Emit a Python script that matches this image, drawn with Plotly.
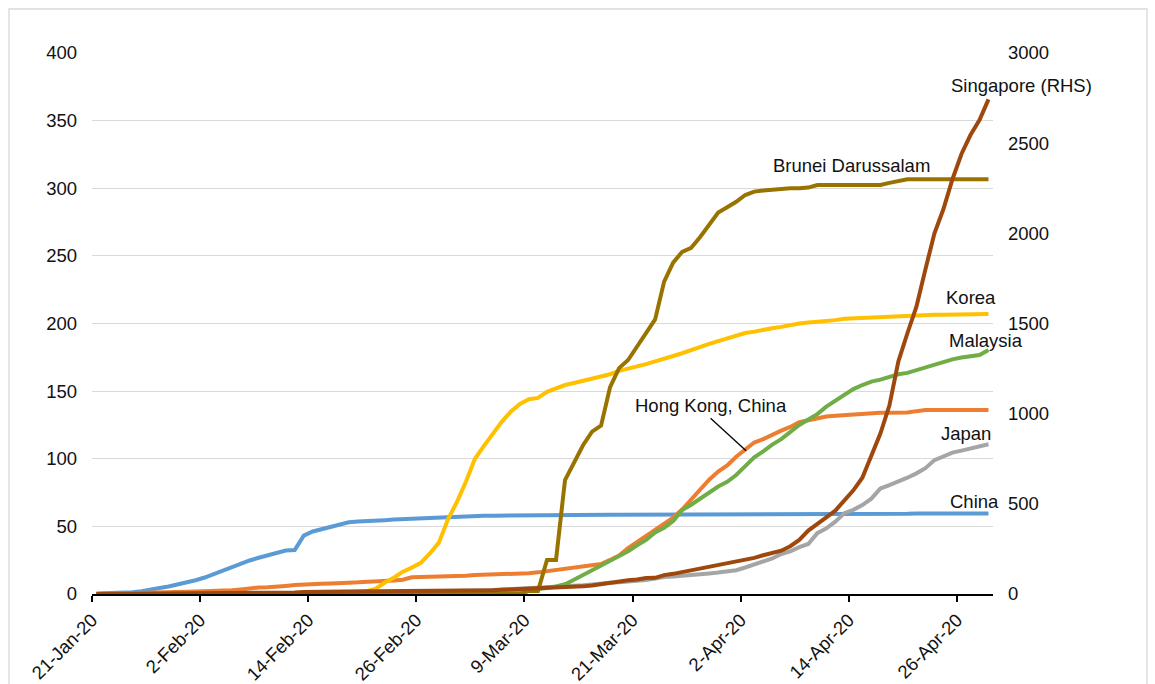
import pandas as pd
import plotly.graph_objects as go

# ---- data: cases per million, daily from 21-Jan-20 to 29-Apr-20 ----
start_date = "2020-01-21"
n_days = 100
dates = pd.date_range(start_date, periods=n_days, freq="D")

china = [0.3, 0.4, 0.5, 0.8, 1.3, 2.0, 3.5, 4.5, 5.6, 7.0,
         8.3, 10.2, 12.2, 14.8, 17.4, 19.8, 22.3, 24.8, 26.8, 28.7,
         30.6, 32.2, 32.5, 43.2, 46.2, 48.0, 49.6, 51.2, 53.0, 53.6,
         53.7, 54.2, 54.6, 55.0, 55.3, 55.9, 56.4, 56.7, 56.9, 57.3,
         57.5, 57.6, 57.7, 57.8, 57.9, 58.0, 58.1, 58.2, 58.3, 58.5,
         58.6, 58.6, 58.6, 58.6, 58.6, 58.6, 58.6, 58.6, 58.6, 58.6,
         58.6, 58.6, 58.6, 58.6, 58.6, 58.6, 58.6, 58.6, 58.6, 58.7,
         58.7, 58.7, 58.7, 58.8, 58.8, 58.8, 58.8, 58.8, 58.8, 58.8,
         58.8, 58.8, 58.8, 58.8, 58.8, 58.8, 58.8, 58.8, 58.8, 58.9,
         59.3, 59.5, 59.5, 59.5, 59.5, 59.5, 59.5, 59.5, 59.5, 59.5]

hong_kong = [0.0, 0.1, 0.3, 0.7, 0.8, 1.0, 1.1, 1.1, 1.3, 1.6,
             1.7, 1.9, 2.0, 2.1, 2.4, 2.8, 3.4, 4.2, 4.8, 5.0,
             5.2, 6.0, 6.6, 6.7, 7.0, 7.6, 7.8, 8.4, 8.4, 8.6,
             8.8, 9.2, 9.6, 10.0, 10.6, 12.4, 12.6, 12.7, 12.8, 13.0,
             13.3, 13.5, 14.0, 14.2, 14.2, 14.6, 14.8, 15.2, 15.4, 16.0,
             16.9, 17.5, 18.5, 19.2, 20.0, 20.7, 22.2, 25.2, 28.5, 34.0,
             38.5, 42.5, 47.5, 52.0, 56.5, 62.5, 70.0, 77.0, 84.5, 90.5,
             95.0, 101.5, 106.5, 112.0, 114.5, 118.0, 120.8, 123.5, 127.0, 128.5,
             130.0, 131.2, 131.8, 132.3, 133.0, 133.5, 133.8, 134.0, 134.0, 134.0,
             134.2, 135.2, 136.0, 136.0, 136.0, 136.0, 136.0, 136.0, 136.0, 136.0]

japan = [0.0, 0.0, 0.0, 0.0, 0.0, 0.0, 0.0, 0.1, 0.1, 0.1,
         0.1, 0.2, 0.2, 0.2, 0.2, 0.2, 0.2, 0.2, 0.2, 0.2,
         0.2, 0.2, 0.2, 0.2, 0.3, 0.4, 0.5, 0.5, 0.6, 0.7,
         0.8, 0.8, 0.9, 1.1, 1.2, 1.4, 1.5, 1.6, 1.7, 1.8,
         2.0, 2.1, 2.3, 2.7, 3.0, 3.3, 3.6, 4.0, 4.2, 4.4,
         4.6, 5.0, 5.5, 6.0, 6.5, 7.1, 8.0, 8.3, 8.7, 9.1,
         9.6, 10.3, 11.4, 12.6, 13.0, 13.4, 13.9, 14.5, 15.2, 15.9,
         16.6, 17.6, 19.6, 21.8, 23.4, 26.3, 29.6, 31.5, 34.6, 37.0,
         45.0, 48.5, 53.5, 59.8, 62.2, 65.8, 70.5, 78.0, 80.5, 83.0,
         86.0, 89.2, 93.0, 99.0, 101.5, 104.5, 106.0, 107.8, 109.4, 110.7]

korea = [0.0, 0.0, 0.0, 0.0, 0.0, 0.0, 0.0, 0.0, 0.0, 0.1,
         0.1, 0.2, 0.2, 0.2, 0.2, 0.2, 0.2, 0.3, 0.3, 0.3,
         0.3, 0.3, 0.3, 0.3, 0.3, 0.3, 0.3, 0.3, 0.4, 1.0,
         2.0, 4.0, 8.5, 12.0, 16.5, 19.5, 23.0, 30.0, 38.0, 55.0,
         68.0, 83.0, 100.0, 109.5, 119.0, 127.5, 135.0, 140.5, 144.0, 145.0,
         149.5, 152.0, 154.5, 156.0, 157.5, 158.8, 160.5, 162.5, 165.0, 166.5,
         168.0, 170.0, 172.0, 174.3, 176.0, 178.0, 180.5, 183.0, 185.0, 187.0,
         189.0, 191.0, 193.0, 194.0, 195.5, 196.5, 197.5, 199.0, 200.0, 200.8,
         201.2, 201.4, 202.5, 203.5, 203.8, 204.2, 204.8, 205.3, 205.5, 205.8,
         206.0, 206.2, 206.3, 206.4, 206.5, 206.6, 206.7, 206.8, 207.0, 207.0]

malaysia = [0.0, 0.0, 0.0, 0.1, 0.1, 0.1, 0.2, 0.2, 0.2, 0.2,
            0.2, 0.3, 0.3, 0.4, 0.4, 0.4, 0.5, 0.5, 0.5, 0.5,
            0.5, 0.6, 0.6, 0.6, 0.7, 0.7, 0.7, 0.7, 0.7, 0.7,
            0.7, 0.7, 0.7, 0.7, 0.7, 0.7, 0.7, 0.7, 0.7, 0.7,
            0.8, 0.9, 1.0, 1.1, 1.5, 1.6, 2.0, 2.2, 3.0, 3.6,
            4.4, 5.6, 7.2, 10.5, 14.0, 16.8, 20.3, 24.0, 27.5, 31.5,
            36.0, 40.0, 45.5, 49.0, 54.0, 62.0, 66.0, 70.5, 75.0, 79.5,
            83.0, 88.0, 94.5, 101.0, 105.5, 110.5, 114.5, 119.5, 125.0, 129.0,
            133.0, 138.5, 143.0, 147.5, 151.5, 154.5, 157.0, 158.5, 160.5, 162.5,
            163.5, 165.5, 167.5, 170.0, 172.0, 173.5, 174.8, 175.5, 176.7, 180.4]

brunei = [0.0] * 48 + [
    2.3, 2.3, 25.1, 25.1, 84.3, 97.0, 110.0, 120.0, 124.5, 153.0,
    167.0, 173.0, 183.0, 194.0, 203.0, 231.0, 245.0, 253.0, 256.0, 264.0,
    273.0, 282.0, 286.0, 290.0, 295.0, 297.5, 298.3, 299.0, 300.0, 300.0,
    300.0, 300.5, 302.4, 302.4, 302.4, 302.4, 302.4, 302.4, 302.4, 302.4,
    304.0, 305.5, 306.6, 306.6, 306.6, 306.6, 306.6, 306.6, 306.6, 306.6,
    306.6, 306.6]

singapore_rhs = [0.0, 0.2, 0.5, 0.5, 0.7, 0.9, 1.2, 1.4, 2.0, 2.3,
                 2.3, 3.0, 3.2, 3.9, 4.2, 5.3, 5.8, 5.8, 6.5, 7.7,
                 7.9, 8.4, 8.6, 10.5, 11.8, 12.8, 13.2, 13.5, 13.9, 14.4,
                 14.9, 15.3, 15.3, 15.6, 15.9, 16.2, 16.8, 17.5, 17.8, 17.9,
                 18.6, 19.3, 19.8, 20.0, 20.4, 23.0, 24.7, 27.0, 28.5, 29.5,
                 31.6, 32.6, 35.1, 37.9, 42.3, 46.8, 54.9, 58.6, 67.0, 75.8,
                 80.0, 88.1, 89.5, 104.6, 111.8, 121.5, 128.9, 139.8, 151.9, 161.9,
                 167.5, 178.0, 186.0, 200.0, 215.0, 230.0, 240.0, 265.0, 300.0, 352.0,
                 392.0, 425.0, 462.0, 520.0, 575.0, 645.0, 770.0, 890.0, 1045.0, 1290.0,
                 1446.0, 1593.0, 1800.0, 2000.0, 2135.0, 2300.0, 2440.0, 2545.0, 2628.0, 2743.0]

series_names = ["China", "Hong Kong, China", "Japan", "Korea", "Malaysia", "Brunei Darussalam"]
series_values = [china, hong_kong, japan, korea, malaysia, brunei]
series_colors = ["#5B9BD5", "#ED7D31", "#A5A5A5", "#FFC000", "#70AD47", "#997300"]
singapore_color = "#9E480E"

# label positions (days after start, value on left axis)
label_text = ["Singapore (RHS)", "Brunei Darussalam", "Korea", "Malaysia", "Japan", "China", "Hong Kong, China"]
label_day = [103.2, 84.3, 97.6, 99.2, 97.0, 98.0, 68.7]
label_val = [376.3, 316.5, 219.1, 187.8, 118.8, 68.2, 139.7]

# ---- figure ----
FONT = "Liberation Sans, Arial, sans-serif"
FS = 18.5
TXT = "#111111"
t0 = pd.Timestamp(start_date)
x_mid = dates + pd.Timedelta(hours=12)  # points centred in each day slot


def day(d):
    return t0 + pd.Timedelta(days=d)


fig = go.Figure()
for name, vals, col in zip(series_names, series_values, series_colors):
    fig.add_trace(go.Scatter(x=x_mid, y=vals, name=name, mode="lines",
                             line=dict(color=col, width=4), yaxis="y"))
fig.add_trace(go.Scatter(x=x_mid, y=singapore_rhs, name="Singapore (RHS)", mode="lines",
                         line=dict(color=singapore_color, width=4), yaxis="y2"))

for txt, d, v in zip(label_text, label_day, label_val):
    fig.add_annotation(x=d / n_days, y=v, xref="paper", yref="y", text=txt, showarrow=False,
                       font=dict(family=FONT, size=FS, color=TXT),
                       xanchor="center", yanchor="middle")

# leader line for Hong Kong, China
fig.add_shape(type="line", xref="x", yref="y",
              x0=day(68.65), y0=129.9, x1=day(72.6), y1=105.9,
              line=dict(color="#000000", width=1.3))

L, R, T, B = 92, 162, 53, 90
W, H = 1155, 684
pw, ph = W - L - R, H - T - B
# chart-area border
fig.add_shape(type="rect", xref="paper", yref="paper",
              x0=(9 - L) / pw, x1=(1147 - L) / pw,
              y0=(H - B - 700) / ph, y1=(H - B - 9) / ph,
              line=dict(color="#D9D9D9", width=1.3), fillcolor="rgba(0,0,0,0)", layer="below")

fig.update_layout(
    width=W, height=H,
    margin=dict(l=L, r=R, t=T, b=B, pad=0, autoexpand=False),
    paper_bgcolor="white", plot_bgcolor="white",
    showlegend=False,
    font=dict(family=FONT, size=FS, color=TXT),
    xaxis=dict(type="date", automargin=False,
               range=[t0, t0 + pd.Timedelta(days=n_days)],
               tick0=t0, dtick=12 * 86400000, tickformat="%-d-%b-%y",
               tickangle=-45, ticks="outside", ticklen=6, tickwidth=1.5, tickcolor="#000000",
               showline=True, linecolor="#000000", linewidth=2, showgrid=False, zeroline=False,
               tickfont=dict(family=FONT, size=FS, color=TXT)),
    yaxis=dict(range=[0, 400], dtick=50, showgrid=True, gridcolor="#D9D9D9", gridwidth=1.3,
               zeroline=False, showline=False, ticks="", ticklabelstandoff=14, automargin=False,
               tickfont=dict(family=FONT, size=FS, color=TXT)),
    yaxis2=dict(range=[0, 3000], dtick=500, overlaying="y", side="right", showgrid=False,
                zeroline=False, showline=False, ticks="", ticklabelstandoff=14, automargin=False,
                tickfont=dict(family=FONT, size=FS, color=TXT)),
)

fig.write_html("out.html", config={"displayModeBar": False},
               post_script="document.body.style.margin='0';")
